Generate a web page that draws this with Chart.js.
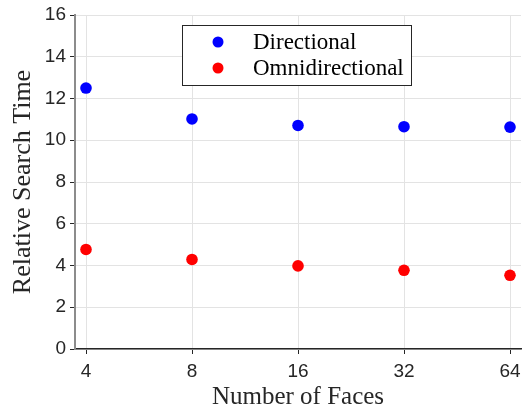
<!DOCTYPE html>
<html>
<head>
<meta charset="utf-8">
<script src="https://cdn.jsdelivr.net/npm/chart.js@4"></script>
<style>
  html, body { margin: 0; padding: 0; background: #fff; }
  #wrap { width: 523px; height: 414px; }
</style>
</head>
<body>
<div id="wrap"><canvas id="scatter" width="523" height="414"></canvas></div>
<script>
const faces = [4, 8, 16, 32, 64];
const directional = [12.5, 11.02, 10.71, 10.65, 10.63];
const omnidirectional = [4.77, 4.29, 3.98, 3.77, 3.53];
const yTicks = [0, 2, 4, 6, 8, 10, 12, 14, 16];

const serif = '"Liberation Serif", "DejaVu Serif", serif';
const sans = '"Liberation Sans", Arial, sans-serif';
const noPad = () => ({ left: 0, top: 0, right: 0, bottom: 0 });

// legend drawn inside the axes, matlab style
const boxLegend = {
    id: 'boxLegend',
    afterDatasetsDraw(chart) {
        const c = chart.ctx;
        const a = chart.chartArea;
        const x = a.left + 107, y = a.top + 10, w = 229, h = 60;
        c.save();
        c.fillStyle = '#fff';
        c.fillRect(x, y, w, h);
        c.strokeStyle = '#262626';
        c.lineWidth = 1;
        c.strokeRect(x + 0.5, y + 0.5, w, h);
        c.font = '23px ' + serif;
        c.textBaseline = 'middle';
        chart.data.datasets.forEach((ds, i) => {
            const cy = y + 17 + i * 26;
            c.fillStyle = ds.backgroundColor;
            c.beginPath();
            c.arc(x + 36, cy, 5.5, 0, Math.PI * 2);
            c.fill();
            c.fillStyle = '#000';
            c.fillText(ds.label, x + 71, cy + 1);
        });
        c.restore();
    }
};

const ctx = document.getElementById('scatter').getContext('2d');
const chart = new Chart(ctx, {
    type: 'scatter',
    data: {
        datasets: [{
            label: 'Directional',
            data: faces.map((f, i) => ({ x: Math.log2(f), y: directional[i] })),
            backgroundColor: '#0000ff',
            borderColor: '#0000ff',
            pointRadius: 5.8,
            pointBorderWidth: 0
        }, {
            label: 'Omnidirectional',
            data: faces.map((f, i) => ({ x: Math.log2(f), y: omnidirectional[i] })),
            backgroundColor: '#ff0000',
            borderColor: '#ff0000',
            pointRadius: 5.8,
            pointBorderWidth: 0
        }]
    },
    options: {
        responsive: false,
        animation: false,
        layout: { autoPadding: false, padding: { top: 15, right: 2, left: 0, bottom: 0 } },
        plugins: {
            legend: { display: false },
            tooltip: { enabled: false }
        },
        scales: {
            x: {
                type: 'linear',
                min: 2 - 11 / 106,
                max: 6 + 11 / 106,
                afterBuildTicks: s => { s.ticks = faces.map(f => ({ value: Math.log2(f) })); },
                afterFit: s => { s.height = 65; s.getPadding = noPad; },
                ticks: {
                    callback: v => String(Math.round(Math.pow(2, v))),
                    font: { family: sans, size: 19 },
                    color: '#262626',
                    padding: 6,
                    maxRotation: 0
                },
                grid: { color: '#e3e3e3', tickLength: 5, tickColor: '#262626' },
                border: { color: '#262626', width: 1.5 },
                title: {
                    display: true,
                    text: 'Number of Faces',
                    font: { family: serif, size: 25 },
                    color: '#262626',
                    padding: { top: 0, bottom: 2 }
                }
            },
            y: {
                min: 0,
                max: 16,
                afterBuildTicks: s => { s.ticks = yTicks.map(v => ({ value: v })); },
                afterFit: s => { s.width = 75; s.getPadding = noPad; },
                ticks: {
                    font: { family: sans, size: 19 },
                    color: '#262626',
                    padding: 4
                },
                grid: { color: '#e3e3e3', tickLength: 5, tickColor: '#262626' },
                border: { color: '#8c8c8c', width: 2 },
                title: {
                    display: true,
                    text: 'Relative Search Time',
                    font: { family: serif, size: 26 },
                    color: '#262626',
                    padding: { top: 8, bottom: 0 }
                }
            }
        }
    },
    plugins: [boxLegend]
});
</script>
</body>
</html>
